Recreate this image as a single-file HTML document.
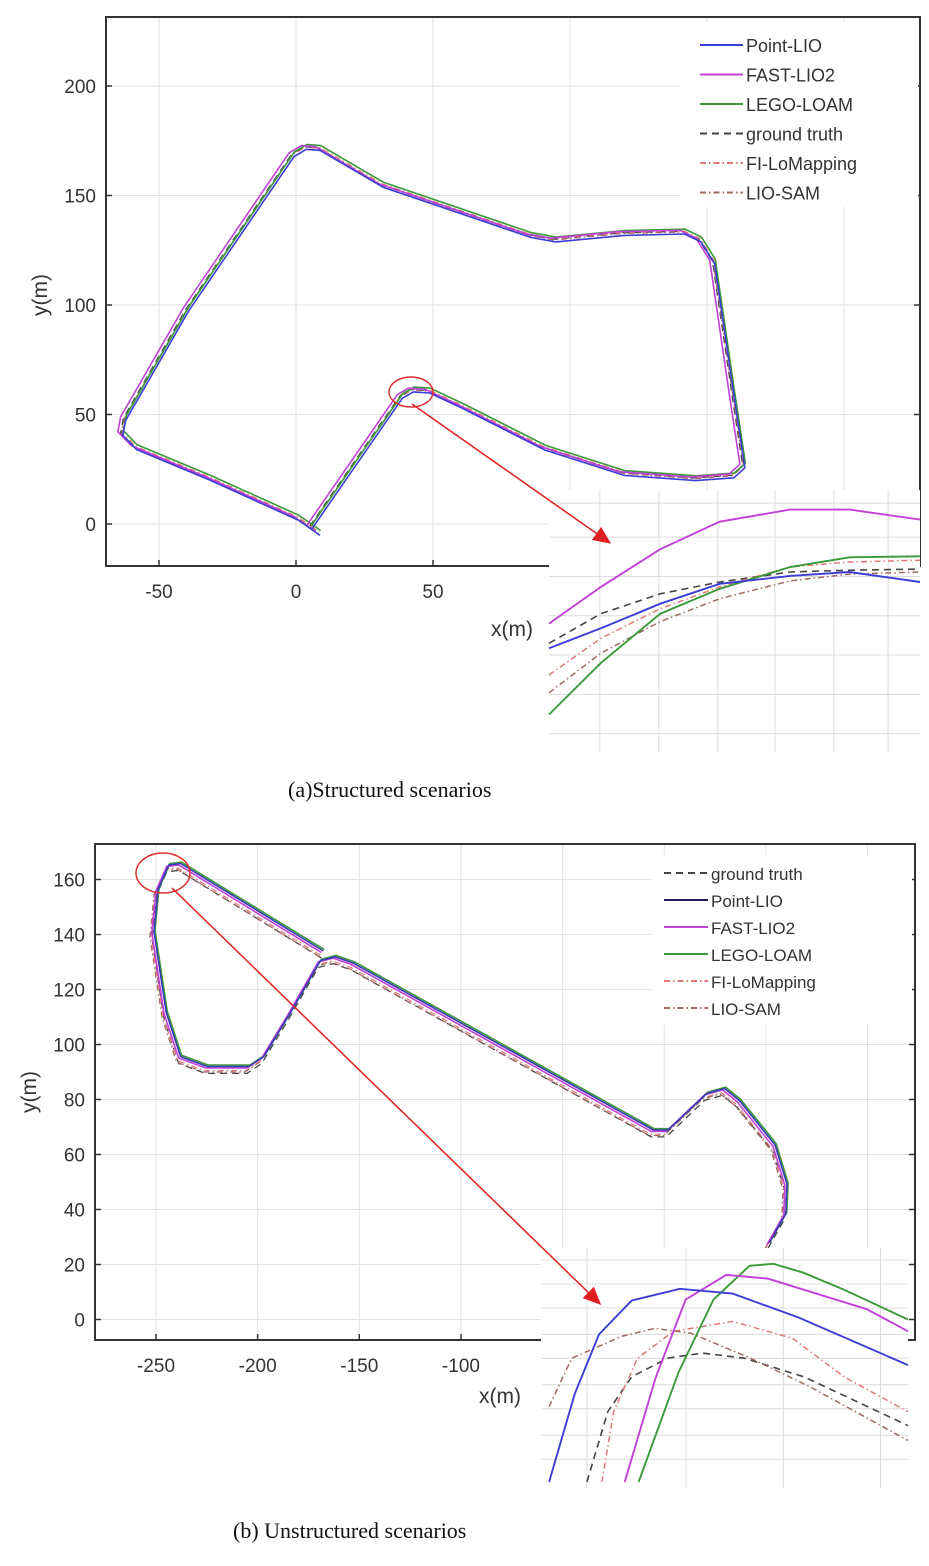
<!DOCTYPE html>
<html><head><meta charset="utf-8"><style>
html,body{margin:0;padding:0;background:#fff}
svg{display:block}
text{font-family:"Liberation Sans",sans-serif;fill:#333}
.cap{font-family:"Liberation Serif",serif;fill:#111;font-size:22px}
</style></head><body>
<svg id="fig" width="929" height="1566" viewBox="0 0 929 1566" xmlns="http://www.w3.org/2000/svg">
<g id="top"></g>
<g id="bot"></g>
<text class="cap" x="288" y="797">(a)Structured scenarios</text>
<text class="cap" x="233" y="1538">(b) Unstructured scenarios</text>
</svg>
<script>
// ---- data: structured scenario (m)
const topTrackX=[5,38,42,48,60,90,119,145,159,163,159,152,147,141,119,94,85,31,8,3,-1.5,-40,-63,-64,-59,-32,0,8];
const topTrackY=[-1,58.6,61.5,61,54,35,23.4,21,22.3,26.8,60,120,130,133.6,133,130,132,155,171.8,172.3,169,98.4,48.4,41.6,35.2,21.1,3,-4];
const topOffX=[0,0.5,0.3,1,-1,0.8];
const topOffY=[0,0.3,-0.3,1,0.5,-1.2];
const topXTicks=[-50,0,50,100,150,200];
const topYTicks=[0,50,100,150,200];
const topLegend=["Point-LIO","FAST-LIO2","LEGO-LOAM","ground truth","FI-LoMapping","LIO-SAM"];
// inset (a), zoomed local units
const topInsetU=[0,14,30,46,65,81,100];
const topInsetMag=[49,63,77.4,87.9,92.5,92.5,88.7];
const topInsetGreen=[14.3,34,52.8,62.3,70.6,74.3,74.7];
const topInsetBlue=[39.6,47.2,56.6,64.2,67.2,68.7,64.9];
const topInsetGT=[41.5,52.8,60.4,64.9,68.7,69.4,69.8];
const topInsetFI=[29.4,43.4,54.7,63,70.6,72.5,73.2];
const topInsetLS=[22.6,37.7,49.8,58.5,65.3,67.9,68.7];
// ---- data: unstructured scenario (m)
const botTrackX=[-168.7,-238.9,-244.7,-250,-252,-246,-238.9,-225.7,-205.3,-198,-184.8,-170.2,-162.9,-154,-6.4,0.9,19.9,28.7,36,53.5,59.4,58.8,50.6];
const botTrackY=[133,164.8,164.3,155.4,140,110.7,94.6,91,91,94.6,110.7,129.5,130.9,128.6,67.9,67.9,81.2,83,78.6,62.5,48.2,37.5,26.8];
const botOffX=[0,-0.5,-1,1.5,0,1];
const botOffY=[-1.5,-0.5,-1,1.5,0.5,1];
const botXTicks=[-250,-200,-150,-100,-50,0,50,100];
const botYTicks=[0,20,40,60,80,100,120,140,160];
const botLegend=["ground truth","Point-LIO","FAST-LIO2","LEGO-LOAM","FI-LoMapping","LIO-SAM"];
const botInGreenU=[26.6,37.5,47,56.8,63.3,71.5,82.6,100], botInGreenV=[2.5,48.3,78.5,92.6,93.4,89.7,82.6,70.2];
const botInMagU=[22.8,31.3,39.4,50.5,61.9,71.7,88.9,100], botInMagV=[2.5,46.3,78.5,88.8,87.2,82.6,74.4,65.3];
const botInBlueU=[2.2,9.2,15.8,24.7,37.8,52.2,70.1,100], botInBlueV=[2.5,39.3,64,78.1,83,81,71.1,51.2];
const botInGTU=[12.5,18.2,24.7,34.5,44,55.4,71.7,100], botInGTV=[2.5,31.8,46.3,54.1,56.2,54.1,46.3,26];
const botInFIU=[16.6,19.8,26.3,36.1,52.2,68.5,82.6,100], botInFIV=[2.5,31.8,54.1,65.3,69.4,62.4,46.3,31.8];
const botInLSU=[2.2,8.4,22,31,40.8,57.1,73.4,100], botInLSV=[33.9,54.1,63.2,66.5,64.5,54.1,42.1,19.8];

const NS="http://www.w3.org/2000/svg";
function mk(parent,tag,attrs){const e=document.createElementNS(NS,tag);for(const k in attrs)e.setAttribute(k,attrs[k]);parent.appendChild(e);return e;}
const styles={
 "ground truth":{stroke:"#444",dash:"7 5",w:1.3},
 "Point-LIO":{stroke:"#3d3dd6",dash:"",w:1.6},
 "FAST-LIO2":{stroke:"#c040d8",dash:"",w:1.6},
 "LEGO-LOAM":{stroke:"#3a9a3a",dash:"",w:1.6},
 "FI-LoMapping":{stroke:"#e07a7a",dash:"6 3 1.5 3",w:1.2},
 "LIO-SAM":{stroke:"#a06a60",dash:"6 3 1.5 3",w:1.2}
};
function pathD(xs,ys,sx,sy){return xs.map((x,i)=>(i?"L":"M")+sx(x).toFixed(1)+","+sy(ys[i]).toFixed(1)).join(" ");}

function plot(g,cfg){
 const sx=v=>cfg.x0+(v-cfg.xa)*cfg.kx, sy=v=>cfg.y0-(v-cfg.ya)*cfg.ky;
 const L=cfg.box[0],T=cfg.box[1],R=cfg.box[2],B=cfg.box[3];
 cfg.xticks.forEach(t=>{const x=sx(t);if(x<L||x>R)return;
  const l=mk(g,"line",{x1:x,y1:T,x2:x,y2:B,stroke:"#e2e2e2","stroke-width":1});
  
  
  mk(g,"line",{x1:x,y1:B,x2:x,y2:B-6,stroke:"#333","stroke-width":1.5});
  const tx=mk(g,"text",{x:x,y:B+32,"text-anchor":"middle","font-size":19});tx.textContent=t;
  
  
 });
 cfg.yticks.forEach(t=>{const y=sy(t);
  const l=mk(g,"line",{x1:L,y1:y,x2:R,y2:y,stroke:"#e2e2e2","stroke-width":1});
  
  
  mk(g,"line",{x1:L,y1:y,x2:L+6,y2:y,stroke:"#333","stroke-width":1.5});
  mk(g,"line",{x1:R,y1:y,x2:R-6,y2:y,stroke:"#333","stroke-width":1.5});
  const tx=mk(g,"text",{x:L-10,y:y+7,"text-anchor":"end","font-size":19});tx.textContent=t;
  
  
 });
 const order=["ground truth","FI-LoMapping","LIO-SAM","LEGO-LOAM","FAST-LIO2","Point-LIO"];
 order.forEach((n,i)=>{const s=styles[n];
  const xs=cfg.tx.map(v=>v+cfg.ox[i]), ys=cfg.ty.map(v=>v+cfg.oy[i]);
  const p=mk(g,"path",{d:pathD(xs,ys,sx,sy),fill:"none",stroke:(n==="Point-LIO"&&cfg.darkPoint)?"#3a3ab8":s.stroke,"stroke-width":s.w,"stroke-dasharray":s.dash,"stroke-linejoin":"round"});
  
  
 });
 const lg=cfg.leg;
 const bg=mk(g,"rect",{x:lg.bx,y:lg.by,width:lg.bw,height:lg.bh,fill:"#fff"});
 
 
 cfg.legend.forEach((n,i)=>{const s=styles[n];const y=lg.y+i*lg.dy;
  let col=s.stroke; if(n==="Point-LIO"&&cfg.darkPoint)col="#1e1a5a";
  mk(g,"line",{x1:lg.x,y1:y,x2:lg.x+lg.lw,y2:y,stroke:col,"stroke-width":2,"stroke-dasharray":s.dash});
  const tx=mk(g,"text",{x:lg.x+lg.lw+3,y:y+7,"font-size":lg.fs,fill:"#111"});tx.textContent=n;
  
  
 });
 const bx=mk(g,"path",{d:`M${L},${T}H${R}V${B}H${L}Z`,fill:"none",stroke:"#333","stroke-width":2});
 
 
 const yl=mk(g,"text",{x:0,y:0,"font-size":21,"text-anchor":"middle",transform:`translate(${cfg.ylab[0]},${cfg.ylab[1]}) rotate(-90)`});yl.textContent="y(m)";
 
 
 const c=cfg.circ;
 const el=mk(g,"ellipse",{cx:c[0],cy:c[1],rx:c[2],ry:c[3],fill:"none",stroke:"#e03030","stroke-width":1.5});
 
 
 // inset
 const I=cfg.inset;
 const ig=mk(g,"g",{});
 
 
 mk(ig,"rect",{x:I.x,y:I.y,width:I.w,height:I.h,fill:"#fff"});
 I.vg.forEach(u=>mk(ig,"line",{x1:I.x+u*I.w/100,y1:I.y,x2:I.x+u*I.w/100,y2:I.y+I.h,stroke:"#dcdcdc","stroke-width":1}));
 I.hg.forEach(v=>mk(ig,"line",{x1:I.x,y1:I.y+I.h-v*I.h/100,x2:I.x+I.w,y2:I.y+I.h-v*I.h/100,stroke:"#dcdcdc","stroke-width":1}));
 const iu=u=>I.x+u*I.w/100, iv=v=>I.y+I.h-v*I.h/100;
 I.series.forEach(s=>{const st=styles[s.n];
  const p=mk(ig,"path",{d:pathD(s.u,s.v,iu,iv),fill:"none",stroke:st.stroke,"stroke-width":st.w+0.3,"stroke-dasharray":st.dash});
  
  
 });
 // arrow on top of inset
 const a=cfg.arrow;
 const ar=mk(g,"line",{x1:a[0],y1:a[1],x2:a[2],y2:a[3],stroke:"#e02020","stroke-width":1.5});
 
 
 const ang=Math.atan2(a[3]-a[1],a[2]-a[0]);
 const hx=a[2]+10*Math.cos(ang),hy=a[3]+10*Math.sin(ang);
 const pts=[[hx,hy],[hx-18*Math.cos(ang)+8*Math.sin(ang),hy-18*Math.sin(ang)-8*Math.cos(ang)],[hx-18*Math.cos(ang)-8*Math.sin(ang),hy-18*Math.sin(ang)+8*Math.cos(ang)]];
 const ah=mk(g,"polygon",{points:pts.map(p=>p.join(",")).join(" "),fill:"#e02020"});
 
 
 const xl=mk(g,"text",{x:cfg.xlab[0],y:cfg.xlab[1],"font-size":21,"text-anchor":"middle"});xl.textContent="x(m)";
 
 
}

plot(document.getElementById('top'),{
 x0:296,xa:0,kx:2.74,y0:524,ya:0,ky:2.19,box:[106,17,920,566],
 xticks:topXTicks,yticks:topYTicks,tx:topTrackX,ty:topTrackY,ox:topOffX,oy:topOffY,
 legend:topLegend,leg:{bx:680,by:22,bw:238,bh:185,x:700,y:45,dy:29.5,lw:43,fs:18},
 ylab:[47,295],xlab:[512,636],circ:[411,392,22,15],arrow:[412,404,603,538],
 inset:{x:549,y:490,w:371,h:262,vg:[13.7,29.6,45.5,60.9,76.8,91.4],hg:[7,22,37,52,67,82,95],
  series:[{n:"ground truth",u:topInsetU,v:topInsetGT},{n:"FI-LoMapping",u:topInsetU,v:topInsetFI},{n:"LIO-SAM",u:topInsetU,v:topInsetLS},
   {n:"LEGO-LOAM",u:topInsetU,v:topInsetGreen},{n:"FAST-LIO2",u:topInsetU,v:topInsetMag},{n:"Point-LIO",u:topInsetU,v:topInsetBlue}]}
});
plot(document.getElementById('bot'),{
 x0:156,xa:-250,kx:2.033,y0:1319.5,ya:0,ky:2.75,box:[95,844,915,1340],darkPoint:true,
 xticks:botXTicks,yticks:botYTicks,tx:botTrackX,ty:botTrackY,ox:botOffX,oy:botOffY,
 legend:botLegend,leg:{bx:652,by:855,bw:260,bh:170,x:664,y:873,dy:27,lw:44,fs:17},
 ylab:[36,1092],xlab:[500,1403],circ:[163,873,27,20],arrow:[172,888,594,1298],
 inset:{x:541,y:1248,w:367,h:240,vg:[12.5,39.5,66,92.5],hg:[12,22,33,43,54,64,75,85,95],
  series:[{n:"ground truth",u:botInGTU,v:botInGTV},{n:"FI-LoMapping",u:botInFIU,v:botInFIV},{n:"LIO-SAM",u:botInLSU,v:botInLSV},
   {n:"LEGO-LOAM",u:botInGreenU,v:botInGreenV},{n:"FAST-LIO2",u:botInMagU,v:botInMagV},{n:"Point-LIO",u:botInBlueU,v:botInBlueV}]}
});
</script>
</body></html>
